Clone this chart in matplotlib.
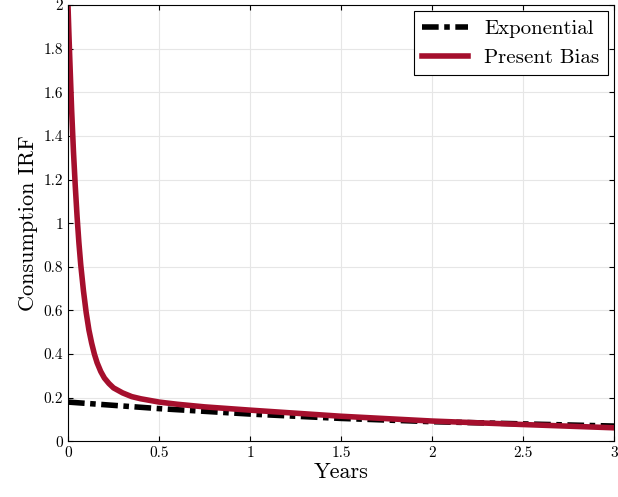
import matplotlib.pyplot as plt

plt.rcParams['font.family'] = ['cmr10', 'DejaVu Serif']
plt.rcParams['axes.formatter.use_mathtext'] = True
plt.rcParams['mathtext.fontset'] = 'cm'

# values
years_pb = [0, 0.005, 0.01, 0.02, 0.03, 0.04, 0.05, 0.06, 0.07, 0.085, 0.1, 0.115, 0.13, 0.145, 0.16, 0.18,
            0.2, 0.225, 0.25, 0.3, 0.35, 0.4, 0.5, 0.6, 0.75, 1.0, 1.5, 2.0, 2.5, 3.0]
present_bias = [2.0, 1.87, 1.75, 1.52, 1.33, 1.17, 1.03, 0.91, 0.81, 0.69, 0.59, 0.51, 0.45, 0.40, 0.36, 0.32,
                0.29, 0.265, 0.245, 0.222, 0.205, 0.195, 0.18, 0.17, 0.158, 0.143, 0.115, 0.093, 0.077, 0.062]
years_exp = [0, 0.5, 1.0, 1.5, 2.0, 2.5, 3.0]
exponential = [0.18, 0.15, 0.125, 0.105, 0.09, 0.08, 0.07]

fig = plt.figure(figsize=(6.18, 4.97), dpi=100)
ax = fig.add_axes([0.11, 0.112, 0.884, 0.878])
ax.plot(years_exp, exponential, color='black', lw=4, ls=(0, (3, 1, 1, 1)), label='Exponential')
ax.plot(years_pb, present_bias, color='#a50f2d', lw=4, label='Present Bias')
ax.set_xlim(0, 3)
ax.set_ylim(0, 2)
ax.set_xticks([0, 0.5, 1, 1.5, 2, 2.5, 3])
ax.set_xticklabels(['0', '0.5', '1', '1.5', '2', '2.5', '3'])
ax.set_yticks([0, 0.2, 0.4, 0.6, 0.8, 1, 1.2, 1.4, 1.6, 1.8, 2])
ax.set_yticklabels(['0', '0.2', '0.4', '0.6', '0.8', '1', '1.2', '1.4', '1.6', '1.8', '2'])
ax.tick_params(labelsize=11, direction='in', top=True, right=True)
ax.grid(True, color='#e6e6e6', lw=0.8)
ax.set_axisbelow(True)
ax.set_xlabel('Years', fontsize=16, labelpad=2)
ax.set_ylabel('Consumption IRF', fontsize=16)
leg = ax.legend(loc='upper right', fontsize=15, fancybox=False, framealpha=1,
                edgecolor='black', handlelength=2.2, borderaxespad=0.3)
leg.get_frame().set_linewidth(0.8)
fig.savefig('out.png', dpi=100)
